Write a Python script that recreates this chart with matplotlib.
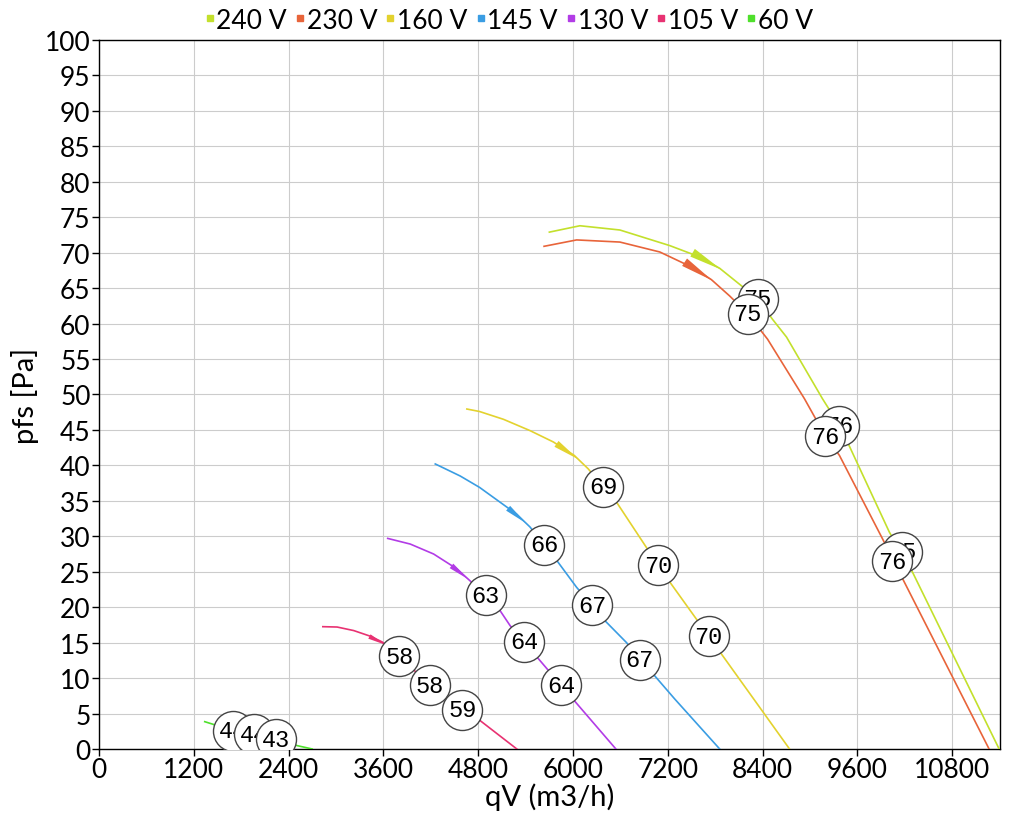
import matplotlib
matplotlib.use("Agg")
import matplotlib.pyplot as plt
import numpy as np

plt.rcParams['font.family'] = ['Lato', 'DejaVu Sans']

# Fan curves: airflow qV (m3/h) vs static pressure pfs (Pa)
labels = ["240 V", "230 V", "160 V", "145 V", "130 V", "105 V", "60 V"]
colors = ["#c3e02c", "#e8643a", "#e3d22e", "#3a9de3", "#b23ce6", "#e83272", "#4fe02c"]

q_240 = [5701, 6088, 6594, 7225, 7604, 7857, 8147, 8337, 8526, 8703, 9158, 9373, 9499, 10004, 10295, 11394]
p_240 = [72.9, 73.8, 73.2, 71.0, 69.4, 67.8, 65.2, 63.5, 60.6, 58.1, 49.4, 45.6, 42.7, 30.6, 25.0, 0.0]
q_230 = [5634, 6046, 6594, 7099, 7516, 7752, 7983, 8211, 8463, 8930, 9196, 9373, 9920, 10173, 11267]
p_230 = [70.9, 71.8, 71.5, 70.1, 67.9, 66.2, 63.9, 61.4, 57.8, 49.4, 44.1, 41.4, 29.6, 24.0, 0.0]
q_160 = [4657, 4817, 5120, 5457, 5752, 6017, 6194, 6379, 6552, 6931, 7074, 7718, 8741]
p_160 = [47.95, 47.6, 46.5, 44.9, 43.3, 41.4, 39.5, 37.0, 34.8, 28.4, 25.9, 15.9, 0.0]
q_145 = [4257, 4573, 4817, 5078, 5289, 5457, 5634, 5794, 6046, 6240, 6404, 6678, 6846, 7036, 7288, 7857]
p_145 = [40.2, 38.5, 36.9, 34.8, 33.1, 31.3, 28.8, 26.6, 22.8, 20.3, 18.1, 15.0, 12.6, 10.3, 7.05, 0.0]
q_130 = [3655, 3941, 4236, 4531, 4699, 4897, 5078, 5204, 5381, 5848, 6543]
p_130 = [29.7, 28.9, 27.5, 25.4, 23.7, 21.7, 19.5, 17.4, 15.1, 9.0, 0.0]
q_105 = [2834, 3015, 3225, 3436, 3584, 3802, 4185, 4598, 4825, 5289]
p_105 = [17.25, 17.2, 16.7, 15.9, 15.1, 13.1, 9.0, 5.5, 4.0, 0.0]
q_60 = [1339, 1697, 1962, 2236, 2509, 2699]
p_60 = [3.85, 2.6, 2.1, 1.4, 0.47, 0.0]

# sound level markers (dB) along each curve
mq_240 = [8337, 9373, 10168]
mp_240 = [63.5, 45.6, 27.8]
ml_240 = ["75", "76", "75"]
mq_230 = [8211, 9196, 10042]
mp_230 = [61.4, 44.1, 26.5]
ml_230 = ["75", "76", "76"]
mq_160 = [6379, 7074, 7718]
mp_160 = [37.0, 25.9, 15.9]
ml_160 = ["69", "70", "70"]
mq_145 = [5634, 6240, 6846]
mp_145 = [28.8, 20.3, 12.6]
ml_145 = ["66", "67", "67"]
mq_130 = [4897, 5381, 5848]
mp_130 = [21.7, 15.1, 9.0]
ml_130 = ["63", "64", "64"]
mq_105 = [3802, 4185, 4598]
mp_105 = [13.1, 9.0, 5.5]
ml_105 = ["58", "58", "59"]
mq_60 = [1697, 1962, 2236]
mp_60 = [2.6, 2.1, 1.4]
ml_60 = ["44", "44", "43"]

# arrow tips (qV) marking the start of the working range
arrow_q = [7878, 7765, 6067, 5406, 4677, 3630, None]
arrow_size = [20, 20, 16, 14, 13, 11, 0]

curves = [(q_240, p_240), (q_230, p_230), (q_160, p_160), (q_145, p_145),
          (q_130, p_130), (q_105, p_105), (q_60, p_60)]
marks = [(mq_240, mp_240, ml_240), (mq_230, mp_230, ml_230), (mq_160, mp_160, ml_160),
         (mq_145, mp_145, ml_145), (mq_130, mp_130, ml_130), (mq_105, mp_105, ml_105),
         (mq_60, mp_60, ml_60)]

fig = plt.figure(figsize=(10.2, 8.2), dpi=100)
ax = fig.add_axes([0.097, 0.0854, 0.883, 0.8646])

for i, ((q, p), (mq, mp, ml)) in enumerate(zip(curves, marks)):
    z = 3 + i * 0.1
    ax.plot(q, p, color=colors[i], lw=1.2, zorder=z)
    ax.plot([], [], ls='none', marker='s', ms=4.5, color=colors[i], label=labels[i])
    if arrow_q[i] is not None:
        tip = arrow_q[i]
        tail = tip - 250
        ax.annotate('', xy=(tip, np.interp(tip, q, p)), xytext=(tail, np.interp(tail, q, p)),
                    arrowprops=dict(arrowstyle='-|>,head_length=1.2,head_width=0.16',
                                    color=colors[i], lw=0, mutation_scale=arrow_size[i],
                                    shrinkA=0, shrinkB=0),
                    zorder=z)
    for x, y, t in zip(mq, mp, ml):
        ax.scatter([x], [y], s=830, facecolor='white', edgecolor='#444444',
                   linewidth=1, zorder=10 + i)
        ax.text(x, y, t, ha='center', va='center', fontsize=17,
                family='Liberation Mono', zorder=10 + i)

ax.set_xlim(0, 11400)
ax.set_ylim(0, 100)
ax.set_xticks(np.arange(0, 10801, 1200))
ax.set_yticks(np.arange(0, 101, 5))
ax.grid(True, color='#cccccc', lw=0.8)
ax.set_axisbelow(True)
ax.tick_params(labelsize=19, length=5, width=1, pad=1)
for s in ax.spines.values():
    s.set_linewidth(1)
ax.set_xlabel("qV (m3/h)", fontsize=21, labelpad=0)
ax.set_ylabel("pfs [Pa]", fontsize=21, labelpad=4)

ax.legend(loc='lower center', bbox_to_anchor=(0.455, 0.99), ncol=7, frameon=False,
          fontsize=19, handlelength=0.4, handletextpad=0.05, columnspacing=0.3,
          borderaxespad=0.15)

fig.savefig("out.png", dpi=100)
